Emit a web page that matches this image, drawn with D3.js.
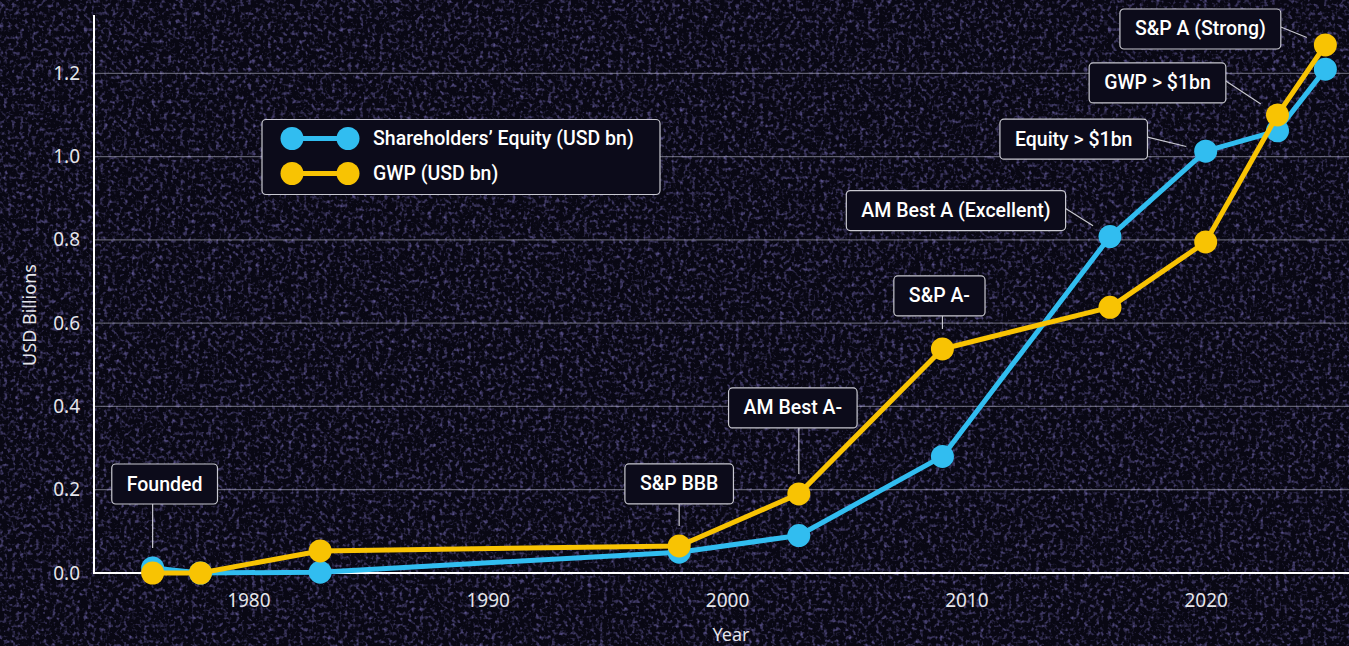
<!DOCTYPE html>
<html>
<head>
<meta charset="utf-8">
<script src="https://cdn.jsdelivr.net/npm/d3@7"></script>
<style>
  html, body { margin: 0; padding: 0; background: #0c0b1c; }
  svg { display: block; }
  .tick text { font-family: "Noto Sans", sans-serif; font-size: 19px; fill: #e4e4ea; }
  .label { font-family: "Noto Sans", sans-serif; font-size: 18px; fill: #e4e4ea; }
  .note text, .legend text { font-family: Roboto, sans-serif; font-weight: 500; font-size: 19.5px; fill: #ffffff; }
</style>
</head>
<body>
<div id="chart"></div>
<script>
// data
const years = [1976, 1978, 1983, 1998, 2003, 2009, 2016, 2020, 2023, 2025];
const equity = [0.012, 0.0, 0.002, 0.05, 0.09, 0.28, 0.808, 1.013, 1.062, 1.21];
const gwp = [0.0, 0.0, 0.053, 0.065, 0.19, 0.538, 0.638, 0.795, 1.10, 1.268];
const seriesNames = ["Shareholders’ Equity (USD bn)", "GWP (USD bn)"];
const yTicks = [0, 0.2, 0.4, 0.6, 0.8, 1.0, 1.2];
const xTicks = [1980, 1990, 2000, 2010, 2020];
const noteLabels = ["Founded", "S&P BBB", "AM Best A-", "S&P A-", "AM Best A (Excellent)", "Equity > $1bn", "GWP > $1bn", "S&P A (Strong)"];
const noteYears = [1976, 1998, 2003, 2009, 2016, 2020, 2023, 2025];
const noteSeries = [0, 1, 1, 1, 0, 0, 1, 1];

// layout
const width = 1349, height = 646;
const colors = ["#31bdf0", "#f8c303"];
const lineWidth = 5, dotR = 11.5, standoff = 20;
// box centre offset from the anchored point, and where the leader leaves the box
const noteLayout = [
    {dx: 12, dy: -84, side: "bottom"},
    {dx: 0, dy: -62, side: "bottom"},
    {dx: -6, dy: -86, side: "bottom"},
    {dx: -3, dy: -53, side: "bottom"},
    {dx: -154, dy: -26, side: "right"},
    {dx: -132, dy: -12, side: "right"},
    {dx: -120, dy: -32, side: "right"},
    {dx: -125, dy: -16, side: "right"}
];

const svg = d3.select("#chart").append("svg")
    .attr("width", width)
    .attr("height", height);

// textured background
const defs = svg.append("defs");
const noise = defs.append("filter").attr("id", "noise")
    .attr("x", 0).attr("y", 0).attr("width", "100%").attr("height", "100%");
noise.append("feTurbulence")
    .attr("type", "fractalNoise")
    .attr("baseFrequency", 0.25)
    .attr("numOctaves", 3)
    .attr("seed", 3);
noise.append("feColorMatrix")
    .attr("type", "matrix")
    .attr("values", "0 0 0 0 0.17  0 0 0 0 0.14  0 0 0 0 0.44  2.0 0 0 0 -1.0");

svg.append("rect").attr("width", width).attr("height", height).attr("fill", "#090814");
svg.append("rect").attr("width", width).attr("height", height).attr("filter", "url(#noise)");

const x = d3.scaleLinear()
    .domain([1976 - 2.45, 2025 + 2.45])
    .range([94, 1384]);

const y = d3.scaleLinear()
    .domain([0, 1.34])
    .range([573, 15]);

// gridlines
svg.append("g")
    .selectAll("line")
    .data(yTicks)
    .join("line")
    .attr("x1", 94)
    .attr("x2", width)
    .attr("y1", d => y(d))
    .attr("y2", d => y(d))
    .attr("stroke", "rgba(200,200,220,0.45)")
    .attr("stroke-width", 1.2);

const yAxis = svg.append("g")
    .attr("transform", "translate(94 0)")
    .call(d3.axisLeft(y).tickValues(yTicks).tickFormat(d3.format(".1f")).tickSize(0).tickPadding(14));
yAxis.select(".domain").remove();

const xAxis = svg.append("g")
    .attr("transform", "translate(0 573)")
    .call(d3.axisBottom(x).tickValues(xTicks).tickFormat(d3.format("d")).tickSize(0).tickPadding(21));
xAxis.select(".domain").remove();

// axis lines
svg.append("line")
    .attr("x1", 94).attr("x2", 94).attr("y1", y(1.34)).attr("y2", 574)
    .attr("stroke", "#ffffff").attr("stroke-width", 2);
svg.append("line")
    .attr("x1", 93).attr("x2", width).attr("y1", 573).attr("y2", 573)
    .attr("stroke", "#ffffff").attr("stroke-width", 2);

svg.append("text")
    .attr("class", "label")
    .attr("x", x(2000) + 4)
    .attr("y", 641)
    .attr("text-anchor", "middle")
    .text("Year");

svg.append("text")
    .attr("class", "label")
    .attr("transform", "translate(36 315) rotate(-90)")
    .attr("text-anchor", "middle")
    .text("USD Billions");

// series
const series = [equity, gwp];
const line = d3.line()
    .x((d, i) => x(years[i]))
    .y(d => y(d));

series.forEach((vals, s) => {
    const g = svg.append("g");
    g.append("path")
        .datum(vals)
        .attr("d", line)
        .attr("fill", "none")
        .attr("stroke", colors[s])
        .attr("stroke-width", lineWidth)
        .attr("stroke-linejoin", "round");
    g.selectAll("circle")
        .data(vals)
        .join("circle")
        .attr("cx", (d, i) => x(years[i]))
        .attr("cy", d => y(d))
        .attr("r", dotR)
        .attr("fill", colors[s]);
});

// annotations
const notes = svg.append("g").attr("class", "note");
noteLabels.forEach((label, i) => {
    const idx = years.indexOf(noteYears[i]);
    const px = x(noteYears[i]);
    const py = y(series[noteSeries[i]][idx]);
    const lay = noteLayout[i];
    const cx = px + lay.dx, cy = py + lay.dy;

    const g = notes.append("g");
    const leader = g.append("line")
        .attr("stroke", "#c8c8d0")
        .attr("stroke-width", 1.2);
    const box = g.append("rect")
        .attr("rx", 4)
        .attr("fill", "#0c0b1a")
        .attr("stroke", "#c8c8d0")
        .attr("stroke-width", 1.2);
    const txt = g.append("text")
        .attr("x", cx)
        .attr("y", cy)
        .attr("text-anchor", "middle")
        .attr("dominant-baseline", "central")
        .text(label);
    const w = txt.node().getBBox().width + 30;
    const h = 40;
    box.attr("x", cx - w / 2).attr("y", cy - h / 2).attr("width", w).attr("height", h);

    let sx, sy;
    if (lay.side === "bottom") { sx = px; sy = cy + h / 2; }
    else { sx = cx + w / 2; sy = cy - 2; }
    const len = Math.hypot(px - sx, py - sy);
    const ex = px - (px - sx) * standoff / len;
    const ey = py - (py - sy) * standoff / len;
    leader.attr("x1", sx).attr("y1", sy).attr("x2", ex).attr("y2", ey);
});

// legend
const legend = svg.append("g").attr("class", "legend");
legend.append("rect")
    .attr("x", 262).attr("y", 119.5)
    .attr("width", 398).attr("height", 75)
    .attr("rx", 4)
    .attr("fill", "#0c0b1a")
    .attr("stroke", "#c8c8d0")
    .attr("stroke-width", 1.2);

seriesNames.forEach((name, s) => {
    const ly = 138.5 + s * 35;
    legend.append("line")
        .attr("x1", 292).attr("x2", 348).attr("y1", ly).attr("y2", ly)
        .attr("stroke", colors[s]).attr("stroke-width", lineWidth);
    [292, 348].forEach(cxp => legend.append("circle")
        .attr("cx", cxp).attr("cy", ly).attr("r", dotR).attr("fill", colors[s]));
    legend.append("text")
        .attr("x", 373)
        .attr("y", ly)
        .attr("dominant-baseline", "central")
        .text(name);
});
</script>
</body>
</html>
